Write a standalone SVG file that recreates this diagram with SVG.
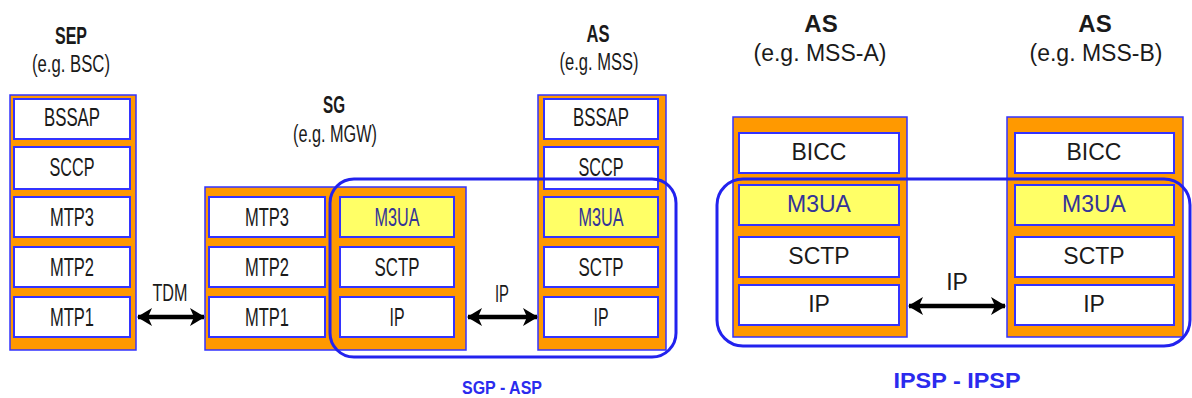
<svg xmlns="http://www.w3.org/2000/svg" width="1192" height="398" viewBox="0 0 1192 398">
<style>
  .stack { fill: #FF9900; stroke: #3333FF; stroke-width: 1.5; }
  .box { fill: #FFFFFF; stroke: #3333FF; stroke-width: 2; }
  .ybox { fill: #FFFF66; stroke: #3333FF; stroke-width: 2; }
  .t { font-family: "Liberation Sans", Arial, sans-serif; font-size: 23px; fill: #1a1a1a; text-anchor: middle; }
  .n { font-size: 25px; }
  .tb { font-family: "Liberation Sans", Arial, sans-serif; font-size: 24px; font-weight: bold; fill: #1a1a1a; text-anchor: middle; }
  .tm { fill: #333399; }
  .grp { fill: none; stroke: #2222EE; stroke-width: 3; }
  .conn { stroke: #000000; stroke-width: 4.5; fill: none; }
  .cap { font-family: "Liberation Sans", Arial, sans-serif; font-weight: bold; fill: #2B2BEE; text-anchor: middle; }
</style>
<defs>
  <marker id="ah" markerUnits="userSpaceOnUse" markerWidth="18" markerHeight="20" refX="14" refY="10" orient="auto-start-reverse">
    <path d="M0,1 L15,10 L0,19 L4,10 Z" fill="#000000"/>
  </marker>
</defs>

<!-- SEP -->
<g id="sep">
  <text class="tb" x="71" y="44" textLength="32" lengthAdjust="spacingAndGlyphs">SEP</text>
  <text class="t" x="71" y="72" font-size="23" textLength="78" lengthAdjust="spacingAndGlyphs">(e.g. BSC)</text>
  <rect class="stack" x="10" y="95" width="126" height="255"/>
  <rect class="box" x="14" y="99" width="116" height="40"/>
  <text class="t n" x="72" y="126" textLength="56" lengthAdjust="spacingAndGlyphs">BSSAP</text>
  <rect class="box" x="14" y="147" width="116" height="42"/>
  <text class="t n" x="72" y="176" textLength="45" lengthAdjust="spacingAndGlyphs">SCCP</text>
  <rect class="box" x="14" y="197" width="116" height="40"/>
  <text class="t n" x="72" y="226" textLength="44" lengthAdjust="spacingAndGlyphs">MTP3</text>
  <rect class="box" x="14" y="247" width="116" height="40"/>
  <text class="t n" x="72" y="276" textLength="44" lengthAdjust="spacingAndGlyphs">MTP2</text>
  <rect class="box" x="14" y="297" width="116" height="40"/>
  <text class="t n" x="72" y="326" textLength="44" lengthAdjust="spacingAndGlyphs">MTP1</text>
</g>

<!-- SG -->
<g id="sg">
  <text class="tb" x="334" y="113" textLength="22" lengthAdjust="spacingAndGlyphs">SG</text>
  <text class="t" x="335" y="142" font-size="23" textLength="84" lengthAdjust="spacingAndGlyphs">(e.g. MGW)</text>
  <rect class="stack" x="205" y="187" width="261" height="163"/>
  <rect class="box" x="209" y="197" width="116" height="40"/>
  <text class="t n" x="267" y="226" textLength="44" lengthAdjust="spacingAndGlyphs">MTP3</text>
  <rect class="box" x="209" y="247" width="116" height="40"/>
  <text class="t n" x="267" y="276" textLength="44" lengthAdjust="spacingAndGlyphs">MTP2</text>
  <rect class="box" x="209" y="297" width="116" height="40"/>
  <text class="t n" x="267" y="326" textLength="44" lengthAdjust="spacingAndGlyphs">MTP1</text>
  <rect class="ybox" x="340" y="197" width="114" height="40"/>
  <text class="t n tm" x="397" y="226" textLength="45" lengthAdjust="spacingAndGlyphs">M3UA</text>
  <rect class="box" x="340" y="247" width="114" height="40"/>
  <text class="t n" x="397" y="276" textLength="45" lengthAdjust="spacingAndGlyphs">SCTP</text>
  <rect class="box" x="340" y="297" width="114" height="40"/>
  <text class="t n" x="397" y="326" textLength="15" lengthAdjust="spacingAndGlyphs">IP</text>
</g>

<!-- AS (MSS) -->
<g id="as-mss">
  <text class="tb" x="598" y="42" textLength="23" lengthAdjust="spacingAndGlyphs">AS</text>
  <text class="t" x="599" y="70" font-size="23" textLength="79" lengthAdjust="spacingAndGlyphs">(e.g. MSS)</text>
  <rect class="stack" x="538" y="95" width="128" height="255"/>
  <rect class="box" x="544" y="99" width="114" height="40"/>
  <text class="t n" x="601" y="126" textLength="56" lengthAdjust="spacingAndGlyphs">BSSAP</text>
  <rect class="box" x="544" y="147" width="114" height="42"/>
  <text class="t n" x="601" y="176" textLength="45" lengthAdjust="spacingAndGlyphs">SCCP</text>
  <rect class="ybox" x="544" y="197" width="114" height="40"/>
  <text class="t n tm" x="601" y="226" textLength="45" lengthAdjust="spacingAndGlyphs">M3UA</text>
  <rect class="box" x="544" y="247" width="114" height="40"/>
  <text class="t n" x="601" y="276" textLength="45" lengthAdjust="spacingAndGlyphs">SCTP</text>
  <rect class="box" x="544" y="297" width="114" height="40"/>
  <text class="t n" x="601" y="326" textLength="15" lengthAdjust="spacingAndGlyphs">IP</text>
</g>

<!-- AS (MSS-A) -->
<g id="as-mss-a">
  <text class="tb" x="821" y="32" font-size="21">AS</text>
  <text class="t" x="820" y="61" font-size="22">(e.g. MSS-A)</text>
  <rect class="stack" x="733" y="117" width="174" height="220"/>
  <rect class="box" x="739" y="133" width="160" height="40"/>
  <text class="t" x="819" y="160">BICC</text>
  <rect class="ybox" x="739" y="185" width="160" height="40"/>
  <text class="t tm" x="819" y="212">M3UA</text>
  <rect class="box" x="739" y="237" width="160" height="40"/>
  <text class="t" x="819" y="264">SCTP</text>
  <rect class="box" x="739" y="285" width="160" height="40"/>
  <text class="t" x="819" y="312">IP</text>
</g>

<!-- AS (MSS-B) -->
<g id="as-mss-b">
  <text class="tb" x="1095" y="32" font-size="21">AS</text>
  <text class="t" x="1096" y="61" font-size="22">(e.g. MSS-B)</text>
  <rect class="stack" x="1007" y="117" width="176" height="220"/>
  <rect class="box" x="1015" y="133" width="159" height="40"/>
  <text class="t" x="1094" y="160">BICC</text>
  <rect class="ybox" x="1015" y="185" width="159" height="40"/>
  <text class="t tm" x="1094" y="212">M3UA</text>
  <rect class="box" x="1015" y="237" width="159" height="40"/>
  <text class="t" x="1094" y="264">SCTP</text>
  <rect class="box" x="1015" y="285" width="159" height="40"/>
  <text class="t" x="1094" y="312">IP</text>
</g>

<!-- groupings -->
<g id="sgp-asp">
  <rect class="grp" x="330" y="179" width="346" height="178" rx="24" ry="24"/>
  <text class="cap" x="502" y="394" font-size="19" textLength="80" lengthAdjust="spacingAndGlyphs">SGP - ASP</text>
</g>
<g id="ipsp-ipsp">
  <rect class="grp" x="717" y="179" width="473" height="167" rx="26" ry="26"/>
  <text class="cap" x="957" y="388" font-size="22" textLength="127" lengthAdjust="spacingAndGlyphs">IPSP - IPSP</text>
</g>

<!-- connectors -->
<g id="connectors">
  <line class="conn" x1="138" y1="317" x2="204" y2="317" marker-start="url(#ah)" marker-end="url(#ah)"/>
  <text class="t" x="170" y="301" font-size="23" textLength="35" lengthAdjust="spacingAndGlyphs">TDM</text>
  <line class="conn" x1="468" y1="317" x2="537" y2="317" marker-start="url(#ah)" marker-end="url(#ah)"/>
  <text class="t" x="502" y="302" font-size="23" textLength="14" lengthAdjust="spacingAndGlyphs">IP</text>
  <line class="conn" x1="909" y1="306" x2="1005" y2="306" marker-start="url(#ah)" marker-end="url(#ah)"/>
  <text class="t" x="957" y="290">IP</text>
</g>
</svg>
